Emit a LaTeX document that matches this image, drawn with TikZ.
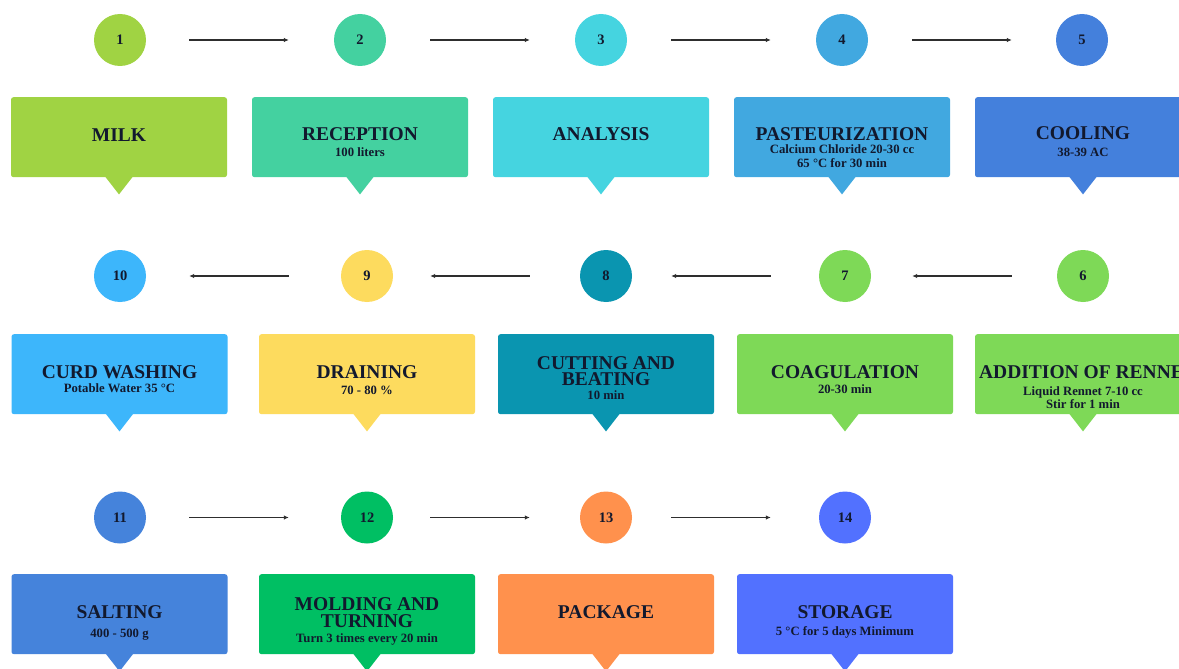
\documentclass[tikz,border=0pt]{standalone}
\usepackage{fontspec}
\setmainfont{Liberation Serif}
\usetikzlibrary{arrows.meta}

\definecolor{ink}{HTML}{12192E}
\definecolor{arrowgray}{HTML}{2E2E2E}
\definecolor{cA}{HTML}{A0D343}
\definecolor{cB}{HTML}{44D1A0}
\definecolor{cC}{HTML}{45D4E0}
\definecolor{cD}{HTML}{41A8E0}
\definecolor{cE}{HTML}{4480DC}
\definecolor{cF}{HTML}{7ED957}
\definecolor{cG}{HTML}{7ED957}
\definecolor{cH}{HTML}{0A95B0}
\definecolor{cI}{HTML}{FDDB5E}
\definecolor{cJ}{HTML}{3DB6FB}
\definecolor{cK}{HTML}{4583DB}
\definecolor{cL}{HTML}{00BF63}
\definecolor{cM}{HTML}{FF914D}
\definecolor{cN}{HTML}{5271FF}

\tikzset{
  num/.style={circle, minimum size=52pt, inner sep=0pt, font=\bfseries\fontsize{14.5}{14.5}\selectfont, text=ink},
  stepbox/.style={rectangle, rounded corners=2.5pt, minimum width=216pt, minimum height=80pt, inner sep=0pt},
  ttl/.style={anchor=base, inner sep=0pt, font=\bfseries\fontsize{19.5}{19.5}\selectfont, text=ink},
  sub/.style={anchor=base, inner sep=0pt, font=\bfseries\fontsize{12.7}{12.7}\selectfont, text=ink},
  flow/.style={draw=arrowgray, line width=1.4pt, -{Latex[length=5pt,width=4.5pt]}},
}

\newcommand\mkbox[4]{%
  \node[stepbox, fill=#4, anchor=north] (#1) at (#2,#3) {};
  \fill[#4] ([xshift=-14pt,yshift=1pt]#1.south) -- ([xshift=14pt,yshift=1pt]#1.south) -- ([yshift=-17pt]#1.south) -- cycle;
}

\begin{document}
\begin{tikzpicture}[x=1pt,y=-1pt]
\useasboundingbox (0,0) rectangle (1179,669);
\fill[white] (0,0) rectangle (1179,669);
\clip (0,0) rectangle (1179,669);

% ---------- circles ----------
\node[num, fill=cA] (c1) at (120,40) {1};
\node[num, fill=cB] (c2) at (360,40) {2};
\node[num, fill=cC] (c3) at (601,40) {3};
\node[num, fill=cD] (c4) at (842,40) {4};
\node[num, fill=cE] (c5) at (1082,40) {5};

\node[num, fill=cJ] (c10) at (120,276) {10};
\node[num, fill=cI] (c9) at (367,276) {9};
\node[num, fill=cH] (c8) at (606,276) {8};
\node[num, fill=cG] (c7) at (845,276) {7};
\node[num, fill=cF] (c6) at (1083,276) {6};

\node[num, fill=cK] (c11) at (120,517.5) {11};
\node[num, fill=cL] (c12) at (367,517.5) {12};
\node[num, fill=cM] (c13) at (606,517.5) {13};
\node[num, fill=cN] (c14) at (845,517.5) {14};

% ---------- arrows ----------
\draw[flow, shorten <=43pt, shorten >=45pt] (c1) -- (c2);
\draw[flow, shorten <=44pt, shorten >=45pt] (c2) -- (c3);
\draw[flow, shorten <=44pt, shorten >=45pt] (c3) -- (c4);
\draw[flow, shorten <=44pt, shorten >=44pt] (c4) -- (c5);

\draw[flow, shorten <=45pt, shorten >=41pt] (c6) -- (c7);
\draw[flow, shorten <=48pt, shorten >=39pt] (c7) -- (c8);
\draw[flow, shorten <=50pt, shorten >=37pt] (c8) -- (c9);
\draw[flow, shorten <=52pt, shorten >=43pt] (c9) -- (c10);

\draw[flow, shorten <=43pt, shorten >=52pt] (c11) -- (c12);
\draw[flow, shorten <=37pt, shorten >=50pt] (c12) -- (c13);
\draw[flow, shorten <=39pt, shorten >=48pt] (c13) -- (c14);

% ---------- boxes ----------
\mkbox{b1}{119}{97}{cA}
\mkbox{b2}{360}{97}{cB}
\mkbox{b3}{601}{97}{cC}
\mkbox{b4}{842}{97}{cD}
\mkbox{b5}{1083}{97}{cE}

\mkbox{b10}{119.5}{334}{cJ}
\mkbox{b9}{367}{334}{cI}
\mkbox{b8}{606}{334}{cH}
\mkbox{b7}{845}{334}{cG}
\mkbox{b6}{1083}{334}{cF}

\mkbox{b11}{119.5}{574}{cK}
\mkbox{b12}{367}{574}{cL}
\mkbox{b13}{606}{574}{cM}
\mkbox{b14}{845}{574}{cN}

% ---------- texts row 1 ----------
\node[ttl] (t1a) at (119,141.5) {MILK};
\node[ttl] (t2a) at (360,140.5) {RECEPTION};
\node[sub] (t2b) at (360,156.5) {100 liters};
\node[ttl] (t3a) at (601,140.5) {ANALYSIS};
\node[ttl] (t4a) at (842,140.5) {PASTEURIZATION};
\node[sub] (t4b) at (842,153.5) {Calcium Chloride 20-30 cc};
\node[sub] (t4c) at (842,167) {65 °C for 30 min};
\node[ttl] (t5a) at (1083,139.5) {COOLING};
\node[sub] (t5b) at (1083,156.5) {38-39 AC};

% ---------- texts row 2 ----------
\node[ttl] (t10a) at (119.5,378.5) {CURD WASHING};
\node[sub] (t10b) at (119.5,392.5) {Potable Water 35 °C};
\node[ttl] (t9a) at (367,378.5) {DRAINING};
\node[sub] (t9b) at (367,394.5) {70 - 80 \%};
\node[ttl] (t8a) at (606,369) {CUTTING AND};
\node[ttl] (t8b) at (606,385.5) {BEATING};
\node[sub] (t8c) at (606,399) {10 min};
\node[ttl] (t7a) at (845,378.5) {COAGULATION};
\node[sub] (t7b) at (845,393.5) {20-30 min};
\node[ttl] (t6a) at (1088,378.5) {ADDITION OF RENNET};
\node[sub] (t6b) at (1083,395) {Liquid Rennet 7-10 cc};
\node[sub] (t6c) at (1083,408) {Stir for 1 min};

% ---------- texts row 3 ----------
\node[ttl] (t11a) at (119.5,618) {SALTING};
\node[sub] (t11b) at (119.5,637.5) {400 - 500 g};
\node[ttl] (t12a) at (367,610.5) {MOLDING AND};
\node[ttl] (t12b) at (367,627) {TURNING};
\node[sub] (t12c) at (367,642) {Turn 3 times every 20 min};
\node[ttl] (t13a) at (606,618) {PACKAGE};
\node[ttl] (t14a) at (845,618) {STORAGE};
\node[sub] (t14b) at (845,635.5) {5 °C for 5 days Minimum};
\end{tikzpicture}
\end{document}
